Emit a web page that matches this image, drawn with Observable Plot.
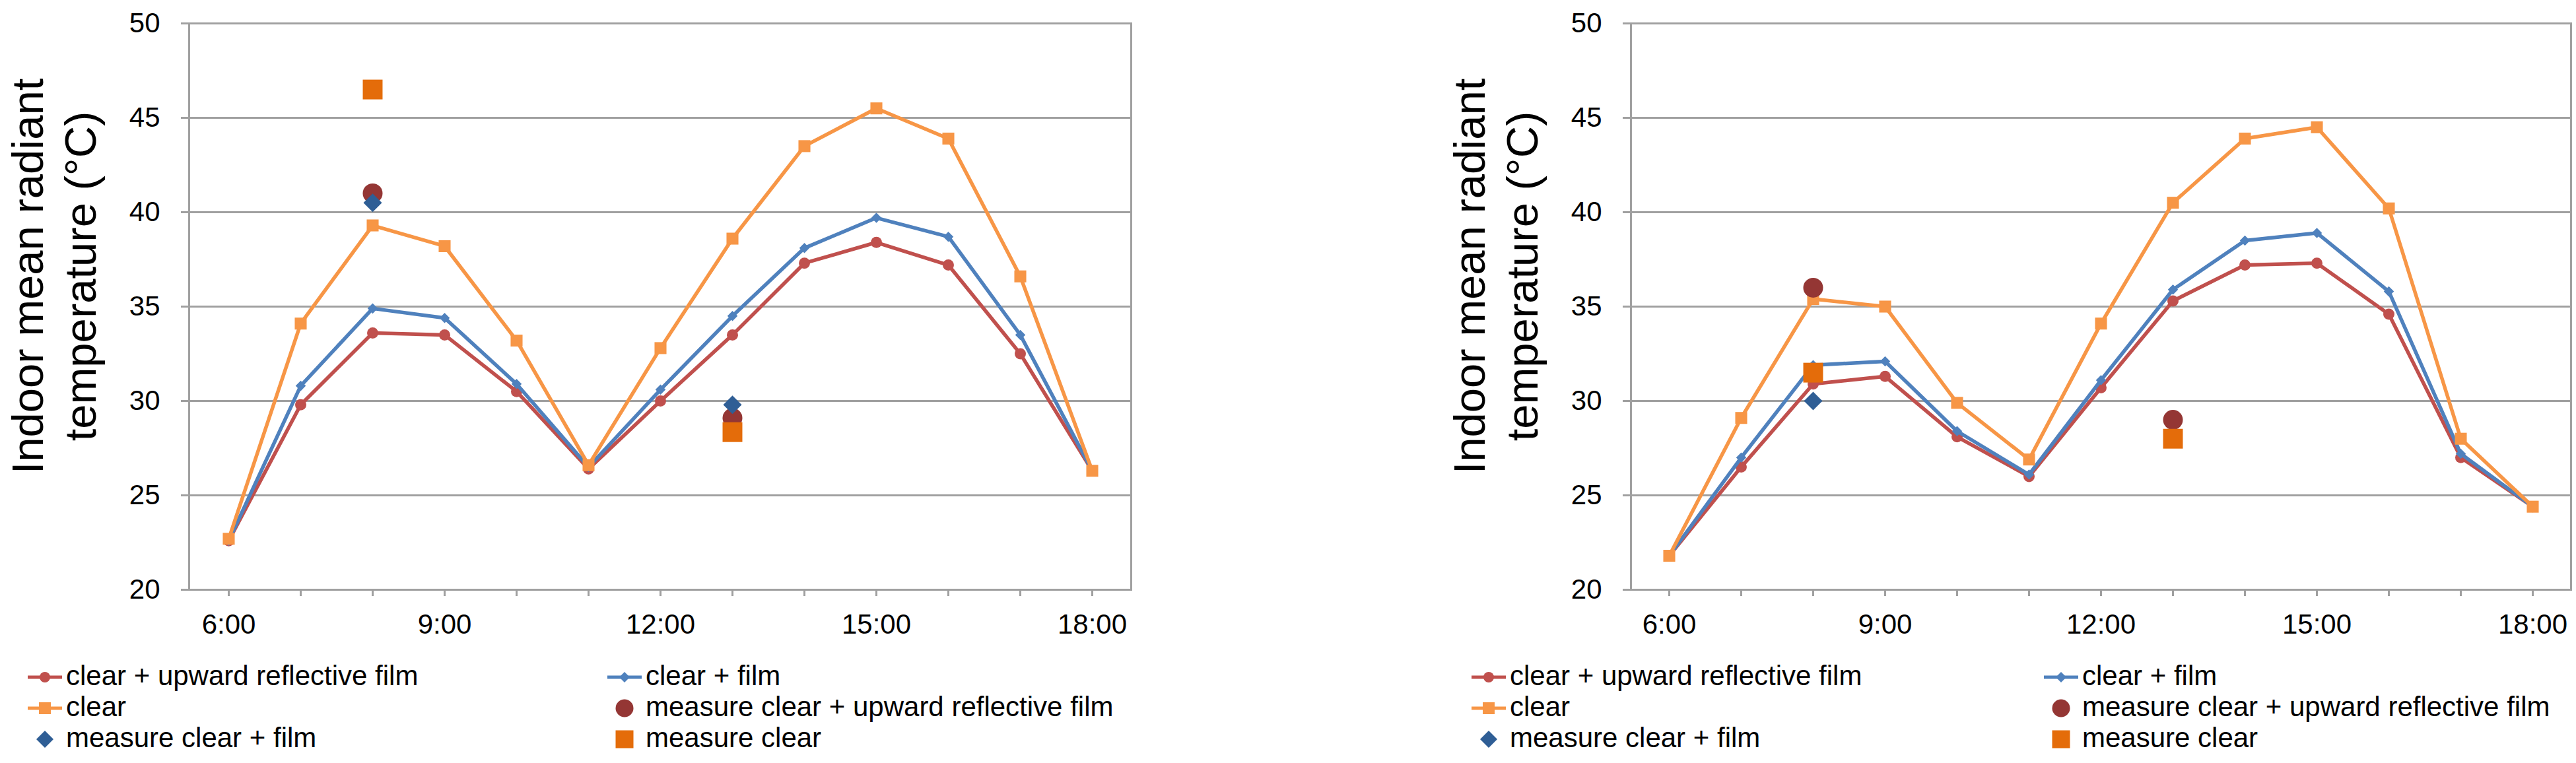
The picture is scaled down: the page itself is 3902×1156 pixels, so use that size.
<!DOCTYPE html>
<html>
<head>
<meta charset="utf-8">
<script src="https://cdn.jsdelivr.net/npm/d3@7"></script>
<script src="https://cdn.jsdelivr.net/npm/@observablehq/plot@0.6"></script>
<style>
  body { margin: 0; background: #fff; font-family: "Liberation Sans", Arial, sans-serif; }
  #wrap { position: relative; width: 3902px; height: 1156px; overflow: hidden; }
  .panel { position: absolute; top: 0; width: 1951px; height: 1156px; }
  .panel svg { position: absolute; left: 0; top: 0; }
  .legend { position: absolute; left: 0; top: 1000px; width: 1951px; font-size: 42px; line-height: 47px; color: #000; }
  .item { position: absolute; white-space: nowrap; display: flex; align-items: flex-start; }
  .item svg { position: static; flex: none; }
</style>
</head>
<body>
<div id="wrap"></div>
<script>
// hours on the x axis
const hours = [6, 7, 8, 9, 10, 11, 12, 13, 14, 15, 16, 17, 18];
const yTicks = [20, 25, 30, 35, 40, 45, 50];
const measureHours = [8, 13];

// left panel
const leftUpward = [22.6, 29.8, 33.6, 33.5, 30.5, 26.4, 30.0, 33.5, 37.3, 38.4, 37.2, 32.5, 26.3];
const leftFilm   = [22.6, 30.8, 34.9, 34.4, 30.9, 26.5, 30.6, 34.5, 38.1, 39.7, 38.7, 33.5, 26.3];
const leftClear  = [22.7, 34.1, 39.3, 38.2, 33.2, 26.6, 32.8, 38.6, 43.5, 45.5, 43.9, 36.6, 26.3];
const leftMeasUpward = [41.0, 29.1];
const leftMeasFilm   = [40.5, 29.8];
const leftMeasClear  = [46.5, 28.35];

// right panel
const rightUpward = [21.8, 26.5, 30.9, 31.3, 28.1, 26.0, 30.7, 35.3, 37.2, 37.3, 34.6, 27.0, 24.4];
const rightFilm   = [21.8, 27.0, 31.9, 32.1, 28.4, 26.1, 31.1, 35.9, 38.5, 38.9, 35.8, 27.2, 24.4];
const rightClear  = [21.8, 29.1, 35.4, 35.0, 29.9, 26.9, 34.1, 40.5, 43.9, 44.5, 40.2, 28.0, 24.4];
const rightMeasUpward = [36.0, 29.0];
const rightMeasFilm   = [30.0, null];
const rightMeasClear  = [31.5, 28.0];

const legendNames = [
  "clear + upward reflective film", "clear + film",
  "clear", "measure clear + upward reflective film",
  "measure clear + film", "measure clear"
];
const yLabel = "Indoor mean radiant\ntemperature (°C)";

const cUpward = "#C0504D", cFilm = "#4F81BD", cClear = "#F79646";
const cMUpward = "#943634", cMFilm = "#2F5E95", cMClear = "#E46C0A";
const gray = "#a0a0a0";
const font = "Liberation Sans, Arial, sans-serif";

const rows = vals => hours.map((h, i) => ({h, v: vals[i]}));
const mrows = vals => measureHours.map((h, i) => ({h, v: vals[i]})).filter(d => d.v != null);

function chart(s) {
  return Plot.plot({
    width: 1951,
    height: 990,
    marginTop: 35,
    marginBottom: 97,
    marginLeft: s.marginLeft,
    marginRight: s.marginRight,
    style: {fontFamily: font, fontSize: "42px", color: "#000", background: "transparent"},
    x: {type: "point", domain: hours, padding: 0.5},
    y: {domain: [20, 50]},
    marks: [
      Plot.gridY(yTicks, {stroke: gray, strokeOpacity: 1, strokeWidth: 3}),
      Plot.frame({stroke: gray, strokeWidth: 3}),
      Plot.axisY(yTicks, {tickSize: 12, tickPadding: 32, stroke: gray, strokeWidth: 3, label: null, fontSize: 42}),
      Plot.axisX(hours, {tickSize: 10, tickPadding: 27, stroke: gray, strokeWidth: 3, label: null, fontSize: 42,
        tickFormat: d => d % 3 === 0 ? `${d}:00` : ""}),
      Plot.text([yLabel], {text: d => d, frameAnchor: "left", dx: -207, dy: -46, rotate: -90,
        fontSize: 67, lineHeight: 1.2, lineAnchor: "middle", textAnchor: "middle", fill: "#000"}),
      Plot.line(rows(s.upward), {x: "h", y: "v", stroke: cUpward, strokeWidth: 5.5}),
      Plot.dot(rows(s.upward), {x: "h", y: "v", r: 8.5, fill: cUpward, symbol: "circle"}),
      Plot.line(rows(s.film), {x: "h", y: "v", stroke: cFilm, strokeWidth: 5.5}),
      Plot.dot(rows(s.film), {x: "h", y: "v", r: 7, fill: cFilm, symbol: "diamond2"}),
      Plot.line(rows(s.clear), {x: "h", y: "v", stroke: cClear, strokeWidth: 5.5}),
      Plot.dot(rows(s.clear), {x: "h", y: "v", r: 10.2, fill: cClear, symbol: "square"}),
      Plot.dot(mrows(s.mUpward), {x: "h", y: "v", r: 15, fill: cMUpward, symbol: "circle"}),
      Plot.dot(mrows(s.mFilm), {x: "h", y: "v", r: 12.6, fill: cMFilm, symbol: "diamond2"}),
      Plot.dot(mrows(s.mClear), {x: "h", y: "v", r: 16.9, fill: cMClear, symbol: "square"})
    ]
  });
}

function swatch(i) {
  const ns = "http://www.w3.org/2000/svg";
  const svg = document.createElementNS(ns, "svg");
  svg.setAttribute("width", 58);
  svg.setAttribute("height", 47);
  const cy = 26, cx = 26;
  const add = (tag, attrs) => {
    const el = document.createElementNS(ns, tag);
    for (const k in attrs) el.setAttribute(k, attrs[k]);
    svg.appendChild(el);
  };
  const line = c => add("line", {x1: 0, x2: 52, y1: cy, y2: cy, stroke: c, "stroke-width": 5});
  const diamond = (c, h) => add("path", {d: `M${cx},${cy - h}L${cx + h},${cy}L${cx},${cy + h}L${cx - h},${cy}Z`, fill: c});
  if (i === 0) { line(cUpward); add("circle", {cx, cy, r: 8, fill: cUpward}); }
  if (i === 1) { line(cFilm); diamond(cFilm, 8); }
  if (i === 2) { line(cClear); add("rect", {x: cx - 9, y: cy - 9, width: 18, height: 18, fill: cClear}); }
  if (i === 3) add("circle", {cx, cy, r: 13.5, fill: cMUpward});
  if (i === 4) diamond(cMFilm, 13);
  if (i === 5) add("rect", {x: cx - 13.5, y: cy - 13.5, width: 27, height: 27, fill: cMClear});
  return svg;
}

function legend(cols) {
  const div = document.createElement("div");
  div.className = "legend";
  legendNames.forEach((name, i) => {
    const item = document.createElement("div");
    item.className = "item";
    item.style.left = cols[i % 2] + "px";
    item.style.top = Math.floor(i / 2) * 47 + "px";
    item.appendChild(swatch(i));
    const span = document.createElement("span");
    span.textContent = name;
    item.appendChild(span);
    div.appendChild(item);
  });
  return div;
}

const panels = [
  {left: 0, marginLeft: 286, marginRight: 238, cols: [42, 920],
   upward: leftUpward, film: leftFilm, clear: leftClear,
   mUpward: leftMeasUpward, mFilm: leftMeasFilm, mClear: leftMeasClear},
  {left: 1951, marginLeft: 519, marginRight: 8, cols: [278, 1145],
   upward: rightUpward, film: rightFilm, clear: rightClear,
   mUpward: rightMeasUpward, mFilm: rightMeasFilm, mClear: rightMeasClear}
];

const wrap = document.getElementById("wrap");
for (const p of panels) {
  const div = document.createElement("div");
  div.className = "panel";
  div.style.left = p.left + "px";
  div.appendChild(chart(p));
  div.appendChild(legend(p.cols));
  wrap.appendChild(div);
}
</script>
</body>
</html>
